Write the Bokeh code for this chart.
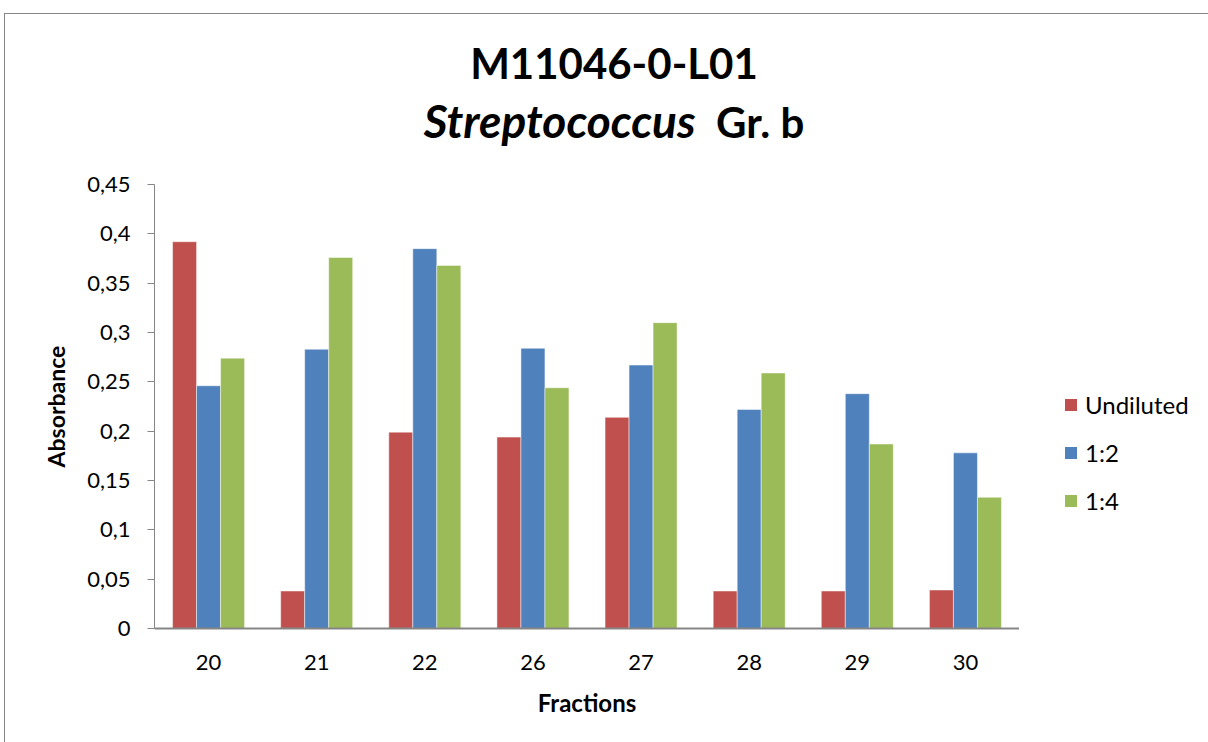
from bokeh.plotting import figure
from bokeh.models import FactorRange, Range1d, FixedTicker, Legend, LegendItem, ColumnDataSource, Div
from bokeh.layouts import column, row
from bokeh.transform import dodge
from bokeh.embed import file_html
from bokeh.resources import INLINE

fractions = ["20", "21", "22", "26", "27", "28", "29", "30"]
undiluted = [0.392, 0.038, 0.199, 0.194, 0.214, 0.038, 0.038, 0.039]
dil_1_2 = [0.246, 0.283, 0.385, 0.284, 0.267, 0.222, 0.238, 0.178]
dil_1_4 = [0.274, 0.376, 0.368, 0.244, 0.310, 0.259, 0.187, 0.133]
series_names = ["Undiluted", "1:2", "1:4"]
y_ticks = [0, 0.05, 0.1, 0.15, 0.2, 0.25, 0.3, 0.35, 0.4, 0.45]
y_tick_labels = ["0", "0,05", "0,1", "0,15", "0,2", "0,25", "0,3", "0,35", "0,4", "0,45"]
title_line1 = "M11046-0-L01"
title_italic = "Streptococcus"
title_rest = "Gr. b"
colors = ["#C0504D", "#4F81BD", "#9BBB59"]
FONT = "Lato"

src = ColumnDataSource(dict(f=fractions, u=undiluted, a=dil_1_2, b=dil_1_4))

p = figure(width=1014, height=588, output_backend="svg", toolbar_location=None,
           x_range=FactorRange(*fractions, range_padding=0), y_range=Range1d(0, 0.45),
           min_border_left=149, min_border_right=0, min_border_top=30, min_border_bottom=114,
           margin=0)
p.outline_line_color = None
p.xgrid.grid_line_color = None
p.ygrid.grid_line_color = None

bw = 0.222
for col, off, c in zip(["u", "a", "b"], [-bw, 0, bw], colors):
    p.vbar(x=dodge("f", off, range=p.x_range), top=col, width=bw, source=src,
           fill_color=c, line_color="white", line_alpha=0.6, line_width=0.8)

p.yaxis.ticker = FixedTicker(ticks=y_ticks)
p.yaxis.major_label_overrides = {t: l for t, l in zip(y_ticks, y_tick_labels)}
p.yaxis.minor_tick_line_color = None
p.yaxis.major_tick_in = 0
p.yaxis.major_tick_out = 7
p.yaxis.axis_line_color = "#868686"
p.yaxis.major_tick_line_color = "#868686"
p.yaxis.major_label_text_font = FONT
p.yaxis.major_label_text_font_size = "22px"
p.yaxis.major_label_text_color = "black"
p.yaxis.major_label_standoff = 17
p.yaxis.axis_label = "Absorbance"
p.yaxis.axis_label_text_font = FONT
p.yaxis.axis_label_text_font_size = "23px"
p.yaxis.axis_label_text_font_style = "bold"
p.yaxis.axis_label_text_color = "black"
p.yaxis.axis_label_standoff = 14

p.xaxis.axis_line_color = "#868686"
p.xaxis.axis_line_width = 2
p.xaxis.major_tick_line_color = None
p.xaxis.major_tick_in = 0
p.xaxis.major_tick_out = 0
p.xaxis.major_label_text_font = FONT
p.xaxis.major_label_text_font_size = "22px"
p.xaxis.major_label_text_color = "black"
p.xaxis.major_label_standoff = 26
p.xaxis.axis_label = "Fractions"
p.xaxis.axis_label_text_font = FONT
p.xaxis.axis_label_text_font_size = "24px"
p.xaxis.axis_label_text_font_style = "bold"
p.xaxis.axis_label_text_color = "black"
p.xaxis.axis_label_standoff = 15

# legend panel (separate small figure so the legend is not clipped)
lp = figure(width=189, height=588, output_backend="svg", toolbar_location=None,
            x_range=Range1d(0, 1), y_range=Range1d(0, 1),
            min_border_left=0, min_border_right=0, min_border_top=0, min_border_bottom=0,
            margin=0)
lp.axis.visible = False
lp.grid.visible = False
lp.outline_line_color = None
leg_renderers = [lp.vbar(x=[-5], top=[0], width=0.01, fill_color=c, line_color=None) for c in colors]
legend = Legend(items=[LegendItem(label=n, renderers=[r]) for n, r in zip(series_names, leg_renderers)],
                location=(44, 113), padding=0, margin=0, spacing=19, label_height=24,
                glyph_width=15, glyph_height=15, label_standoff=7,
                label_text_font=FONT, label_text_font_size="24px", label_text_color="black",
                border_line_color=None, background_fill_alpha=0)
lp.add_layout(legend, "center")

title_html = (
    '<div style="box-sizing:border-box;width:1203px;padding-left:15px;padding-top:20px;'
    'text-align:center;font-family:Lato;font-weight:bold;font-size:42px;line-height:58px;'
    'color:black;white-space:nowrap;">'
    f'{title_line1}<br><i style="font-size:46px;">{title_italic}</i>&nbsp;&nbsp;{title_rest}</div>'
)
title_div = Div(text=title_html, width=1203, height=140, margin=0)

layout = column(title_div, row(p, lp, spacing=0, margin=0), spacing=0, margin=(13, 0, 0, 4),
                styles={"border-left": "1px solid #868686", "border-top": "1px solid #868686"})

open("out.html", "w").write(file_html(layout, INLINE))
